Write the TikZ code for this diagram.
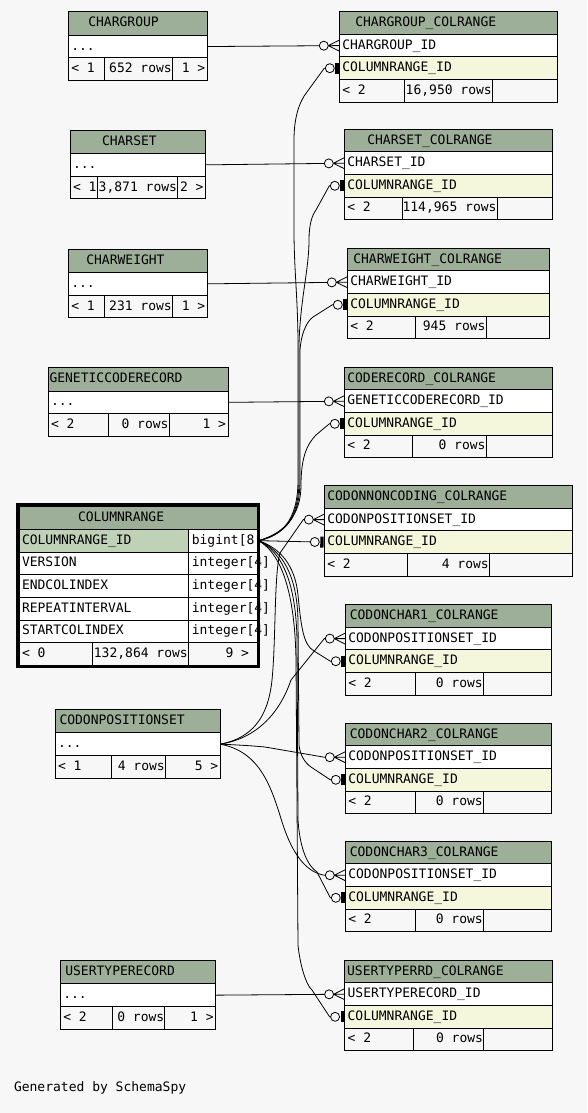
\documentclass[tikz,border=0pt]{standalone}
\usepackage{fontspec}
\newfontfamily\dmono{DejaVu Sans Mono}
\usetikzlibrary{arrows.meta}
\definecolor{bgc}{HTML}{F7F7F7}
\definecolor{hdr}{HTML}{9DAF98}
\definecolor{pkc}{HTML}{BFD2B8}
\definecolor{fkc}{HTML}{F4F7DC}

\pgfdeclarearrow{
  name = crowo,
  setup code = {
    \pgfarrowssettipend{0pt}
    \pgfarrowssetlineend{-20pt}
    \pgfarrowssetbackend{-20pt}
    \pgfarrowshullpoint{0pt}{6pt}
    \pgfarrowshullpoint{0pt}{-6pt}
    \pgfarrowshullpoint{-20pt}{5pt}
    \pgfarrowshullpoint{-20pt}{-5pt}
  },
  drawing code = {
    \pgfsetlinewidth{0.8pt}
    \pgfsetdash{}{0pt}
    \pgfpathmoveto{\pgfqpoint{-11pt}{0pt}}
    \pgfpathlineto{\pgfqpoint{0pt}{5.5pt}}
    \pgfpathmoveto{\pgfqpoint{-11pt}{0pt}}
    \pgfpathlineto{\pgfqpoint{0pt}{0pt}}
    \pgfpathmoveto{\pgfqpoint{-11pt}{0pt}}
    \pgfpathlineto{\pgfqpoint{0pt}{-5.5pt}}
    \pgfusepathqstroke
    \pgfpathcircle{\pgfqpoint{-15.5pt}{0pt}}{4.5pt}
    \pgfusepathqstroke
  }
}
\pgfdeclarearrow{
  name = baro,
  setup code = {
    \pgfarrowssettipend{0pt}
    \pgfarrowssetlineend{-14pt}
    \pgfarrowssetbackend{-14pt}
    \pgfarrowshullpoint{0pt}{6pt}
    \pgfarrowshullpoint{0pt}{-6pt}
    \pgfarrowshullpoint{-14pt}{5pt}
    \pgfarrowshullpoint{-14pt}{-5pt}
  },
  drawing code = {
    \pgfsetlinewidth{0.8pt}
    \pgfsetdash{}{0pt}
    \pgfpathrectangle{\pgfqpoint{-4pt}{-5.5pt}}{\pgfqpoint{3.3pt}{11pt}}
    \pgfusepathqfill
    \pgfpathcircle{\pgfqpoint{-9.5pt}{0pt}}{4.5pt}
    \pgfusepathqstroke
  }
}

\tikzset{
  cellst/.style={draw=black,line width=0.9pt,inner sep=0pt,outer sep=0pt,rectangle},
  txt/.style={font=\dmono\fontsize{13}{15}\selectfont,inner sep=0pt,outer sep=0pt,text height=9.5pt,text depth=2.5pt},
  conn/.style={draw=black,line width=0.8pt},
  tomany/.style={conn,-{crowo}},
  toone/.style={conn,-{baro}},
}

\newcommand\cellbox[6]{\node[cellst,fill=#6,minimum width={#4-(#2)},minimum height={#5-(#3)},anchor=north west] (#1) at (#2,#3) {};}
\newcommand\txl[3]{\node[txt,anchor=west,xshift=#2pt] (#1-t) at (#1.west) {#3};}
\newcommand\txr[3]{\node[txt,anchor=east,xshift=-#2pt] (#1-t) at (#1.east) {#3};}
\newcommand\simpletab[6]{%
  \pgfmathsetmacro\ya{#4+23.5}\pgfmathsetmacro\yb{\ya+22.7}\pgfmathsetmacro\yc{\yb+22.7}%
  \cellbox{#1-h}{#2}{#4}{#3}{\ya}{hdr}%
  \cellbox{#1-r1}{#2}{\ya}{#3}{\yb}{white}%
  \cellbox{#1-f1}{#2}{\yb}{#5}{\yc}{bgc}%
  \cellbox{#1-f2}{#5}{\yb}{#6}{\yc}{bgc}%
  \cellbox{#1-f3}{#6}{\yb}{#3}{\yc}{bgc}}
\newcommand\colrtab[6]{%
  \pgfmathsetmacro\ya{#4+22.6}\pgfmathsetmacro\yb{\ya+22.6}\pgfmathsetmacro\yc{\yb+22.6}\pgfmathsetmacro\yd{\yc+22.6}%
  \cellbox{#1-h}{#2}{#4}{#3}{\ya}{hdr}%
  \cellbox{#1-r1}{#2}{\ya}{#3}{\yb}{white}%
  \cellbox{#1-r2}{#2}{\yb}{#3}{\yc}{fkc}%
  \cellbox{#1-f1}{#2}{\yc}{#5}{\yd}{bgc}%
  \cellbox{#1-f2}{#5}{\yc}{#6}{\yd}{bgc}%
  \cellbox{#1-f3}{#6}{\yc}{#3}{\yd}{bgc}}

\begin{document}
\begin{tikzpicture}[x=1pt,y=-1pt]
\useasboundingbox (0,0) rectangle (587,1113);
\fill[bgc] (0,0) rectangle (587,1113);

% CHARGROUP
\simpletab{cg}{68.3}{207.3}{11.7}{104.3}{172.3}
\txl{cg-h}{20}{CHARGROUP}
\txl{cg-r1}{3}{...}
\txl{cg-f1}{3}{< 1}
\txr{cg-f2}{0.5}{652 rows}
\txr{cg-f3}{2}{1 >}
% CHARGROUP_COLRANGE
\colrtab{cgc}{339.3}{557.3}{11.7}{404.3}{492.3}
\txl{cgc-h}{16}{CHARGROUP\_COLRANGE}
\txl{cgc-r1}{3}{CHARGROUP\_ID}
\txl{cgc-r2}{3}{COLUMNRANGE\_ID}
\txl{cgc-f1}{3}{< 2}
\txr{cgc-f2}{0.5}{16,950 rows}
% CHARSET
\simpletab{cs}{70}{205.5}{130}{97.5}{177.5}
\txl{cs-h}{32}{CHARSET}
\txl{cs-r1}{3}{...}
\txl{cs-f1}{3}{< 1}
\txr{cs-f2}{0.5}{3,871 rows}
\txr{cs-f3}{2}{2 >}
% CHARSET_COLRANGE
\colrtab{csc}{344.3}{552}{129.3}{402}{497}
\txl{csc-h}{23}{CHARSET\_COLRANGE}
\txl{csc-r1}{3}{CHARSET\_ID}
\txl{csc-r2}{3}{COLUMNRANGE\_ID}
\txl{csc-f1}{3}{< 2}
\txr{csc-f2}{0.5}{114,965 rows}
% CHARWEIGHT
\simpletab{cw}{68.3}{207.3}{249}{104.3}{172.3}
\txl{cw-h}{18}{CHARWEIGHT}
\txl{cw-r1}{3}{...}
\txl{cw-f1}{3}{< 1}
\txr{cw-f2}{0.5}{231 rows}
\txr{cw-f3}{2}{1 >}
% CHARWEIGHT_COLRANGE
\colrtab{cwc}{347.3}{549.3}{248.3}{415}{486}
\txl{cwc-h}{6}{CHARWEIGHT\_COLRANGE}
\txl{cwc-r1}{3}{CHARWEIGHT\_ID}
\txl{cwc-r2}{3}{COLUMNRANGE\_ID}
\txl{cwc-f1}{3}{< 2}
\txr{cwc-f2}{0.5}{945 rows}
% GENETICCODERECORD
\simpletab{gc}{48}{228}{367.5}{108}{169}
\txl{gc-h}{1.5}{GENETICCODERECORD}
\txl{gc-r1}{3}{...}
\txl{gc-f1}{3}{< 2}
\txr{gc-f2}{0.5}{0 rows}
\txr{gc-f3}{2}{1 >}
% CODERECORD_COLRANGE
\colrtab{crc}{344.3}{552}{367.3}{412}{486}
\txl{crc-h}{3}{CODERECORD\_COLRANGE}
\txl{crc-r1}{3}{GENETICCODERECORD\_ID}
\txl{crc-r2}{3}{COLUMNRANGE\_ID}
\txl{crc-f1}{3}{< 2}
\txr{crc-f2}{0.5}{0 rows}
% CODONNONCODING_COLRANGE
\colrtab{cnc}{324.3}{572.3}{485.7}{407.7}{489.3}
\txl{cnc-h}{3}{CODONNONCODING\_COLRANGE}
\txl{cnc-r1}{3}{CODONPOSITIONSET\_ID}
\txl{cnc-r2}{3}{COLUMNRANGE\_ID}
\txl{cnc-f1}{3}{< 2}
\txr{cnc-f2}{0.5}{4 rows}
% CODONCHAR1_COLRANGE
\colrtab{c1c}{345.3}{551.3}{604.7}{415.3}{483.3}
\txl{c1c-h}{4.5}{CODONCHAR1\_COLRANGE}
\txl{c1c-r1}{3}{CODONPOSITIONSET\_ID}
\txl{c1c-r2}{3}{COLUMNRANGE\_ID}
\txl{c1c-f1}{3}{< 2}
\txr{c1c-f2}{0.5}{0 rows}
% CODONCHAR2_COLRANGE
\colrtab{c2c}{345.3}{551.3}{723.3}{415.3}{483.3}
\txl{c2c-h}{4.5}{CODONCHAR2\_COLRANGE}
\txl{c2c-r1}{3}{CODONPOSITIONSET\_ID}
\txl{c2c-r2}{3}{COLUMNRANGE\_ID}
\txl{c2c-f1}{3}{< 2}
\txr{c2c-f2}{0.5}{0 rows}
% CODONCHAR3_COLRANGE
\colrtab{c3c}{345.3}{551.3}{841.3}{415.3}{483.3}
\txl{c3c-h}{4.5}{CODONCHAR3\_COLRANGE}
\txl{c3c-r1}{3}{CODONPOSITIONSET\_ID}
\txl{c3c-r2}{3}{COLUMNRANGE\_ID}
\txl{c3c-f1}{3}{< 2}
\txr{c3c-f2}{0.5}{0 rows}
% CODONPOSITIONSET
\simpletab{cps}{55}{220.3}{709.3}{111.3}{165.3}
\txl{cps-h}{4.5}{CODONPOSITIONSET}
\txl{cps-r1}{3}{...}
\txl{cps-f1}{3}{< 1}
\txr{cps-f2}{0.5}{4 rows}
\txr{cps-f3}{2}{5 >}
% USERTYPERECORD
\simpletab{ut}{60.3}{215.7}{960.3}{112.7}{164.8}
\txl{ut-h}{5}{USERTYPERECORD}
\txl{ut-r1}{3}{...}
\txl{ut-f1}{3}{< 2}
\txr{ut-f2}{0.5}{0 rows}
\txr{ut-f3}{2}{1 >}
% USERTYPERRD_COLRANGE
\colrtab{utc}{344.6}{552.8}{960.3}{413.5}{483.5}
\txl{utc-h}{2.5}{USERTYPERRD\_COLRANGE}
\txl{utc-r1}{3}{USERTYPERECORD\_ID}
\txl{utc-r2}{3}{COLUMNRANGE\_ID}
\txl{utc-f1}{3}{< 2}
\txr{utc-f2}{0.5}{0 rows}

% COLUMNRANGE
\cellbox{cr-h}{19}{506}{257}{529.3}{hdr}
\cellbox{cr-r1n}{19}{529.3}{188.3}{552}{pkc}
\cellbox{cr-r1t}{188.3}{529.3}{257}{552}{white}
\cellbox{cr-r2n}{19}{552}{188.3}{574.7}{white}
\cellbox{cr-r2t}{188.3}{552}{257}{574.7}{white}
\cellbox{cr-r3n}{19}{574.7}{188.3}{597.4}{white}
\cellbox{cr-r3t}{188.3}{574.7}{257}{597.4}{white}
\cellbox{cr-r4n}{19}{597.4}{188.3}{620.1}{white}
\cellbox{cr-r4t}{188.3}{597.4}{257}{620.1}{white}
\cellbox{cr-r5n}{19}{620.1}{188.3}{642.8}{white}
\cellbox{cr-r5t}{188.3}{620.1}{257}{642.8}{white}
\cellbox{cr-f1}{19}{642.8}{92.3}{665.5}{bgc}
\cellbox{cr-f2}{92.3}{642.8}{188.3}{665.5}{bgc}
\cellbox{cr-f3}{188.3}{642.8}{257}{665.5}{bgc}
\txl{cr-h}{59}{COLUMNRANGE}
\txl{cr-r1n}{3}{COLUMNRANGE\_ID}
\txl{cr-r1t}{3.5}{bigint[8}
\txl{cr-r2n}{3}{VERSION}
\txl{cr-r2t}{3.5}{integer[4]}
\txl{cr-r3n}{3}{ENDCOLINDEX}
\txl{cr-r3t}{3.5}{integer[4]}
\txl{cr-r4n}{3}{REPEATINTERVAL}
\txl{cr-r4t}{3.5}{integer[4]}
\txl{cr-r5n}{3}{STARTCOLINDEX}
\txl{cr-r5t}{3.5}{integer[4]}
\txl{cr-f1}{3}{< 0}
\txr{cr-f2}{0.5}{132,864 rows}
\txr{cr-f3}{8}{9 >}
\node[draw=black,line width=3pt,inner sep=0pt,outer sep=0pt,minimum width=241pt,minimum height=162pt,anchor=north west] (cr-frame) at (17.5,504.5) {};

\node[txt,anchor=west] (gen) at (14,1088) {Generated by SchemaSpy};

% connectors: parent -> child first rows
\draw[tomany] (cg-r1.east) -- (cgc-r1.west);
\draw[tomany] (cs-r1.east) -- (csc-r1.west);
\draw[tomany] (cw-r1.east) -- (cwc-r1.west);
\draw[tomany] (gc-r1.east) -- (crc-r1.west);
\draw[tomany] (ut-r1.east) -- (utc-r1.west);

% CODONPOSITIONSET fan
\draw[tomany] (cps-r1.east) .. controls (252,738) and (268,718) .. (272,680) .. controls (276,640) and (274,575) .. (280,553) -- ([xshift=-21pt]cnc-r1.west) -- (cnc-r1.west);
\draw[tomany] (cps-r1.east) .. controls (258,738) and (280,712) .. (291,680) -- ([xshift=-21pt]c1c-r1.west) -- (c1c-r1.west);
\draw[tomany] (cps-r1.east) .. controls (240,745) and (255,746) .. (265,747) -- ([xshift=-21pt]c2c-r1.west) -- (c2c-r1.west);
\draw[tomany] (cps-r1.east) .. controls (262,752) and (272,790) .. (283,825) .. controls (292,852) and (305,872) .. ([xshift=-21pt]c3c-r1.west) -- (c3c-r1.west);

% COLUMNRANGE fan
\coordinate (crs) at ([xshift=1.5pt]cr-r1t.east);
\draw[toone] (crs) .. controls (282,536) and (298,520) .. (298,480) -- (298,345) .. controls (298,300) and (294,270) .. (294,230) -- (294,140) .. controls (294,118) and (299,102) .. (307,92) -- ([xshift=-15pt]cgc-r2.west) -- (cgc-r2.west);
\draw[toone] (crs) .. controls (283,535) and (299,520) .. (299,480) -- (299,345) .. controls (300,300) and (309,270) .. (309,240) .. controls (309,225) and (312,215) .. (316,210) -- ([xshift=-15pt]csc-r2.west) -- (csc-r2.west);
\draw[toone] (crs) .. controls (284,534) and (300,520) .. (300,480) -- (300,350) .. controls (301,335) and (306,322) .. (313,317) -- ([xshift=-15pt]cwc-r2.west) -- (cwc-r2.west);
\draw[toone] (crs) .. controls (285,533) and (301,515) .. (301,485) .. controls (301,460) and (306,445) .. (316,435) -- ([xshift=-15pt]crc-r2.west) -- (crc-r2.west);
\draw[toone] (crs) -- (cnc-r2.west);
\draw[toone] (crs) .. controls (280,548) and (295,565) .. (298,595) .. controls (301,625) and (303,645) .. (314,651) -- ([xshift=-15pt]c1c-r2.west) -- (c1c-r2.west);
\draw[toone] (crs) .. controls (282,550) and (297,575) .. (298,620) -- (299,745) .. controls (300,755) and (305,763) .. (311,767) -- ([xshift=-15pt]c2c-r2.west) -- (c2c-r2.west);
\draw[toone] (crs) .. controls (283,552) and (296,585) .. (297,640) -- (298,820) .. controls (300,850) and (308,866) .. (317,872) -- ([xshift=-15pt]c3c-r2.west) -- (c3c-r2.west);
\draw[toone] (crs) .. controls (284,555) and (295,600) .. (296,660) -- (298,945) .. controls (300,965) and (306,985) .. (312,990) -- ([xshift=-15pt]utc-r2.west) -- (utc-r2.west);
\end{tikzpicture}
\end{document}
